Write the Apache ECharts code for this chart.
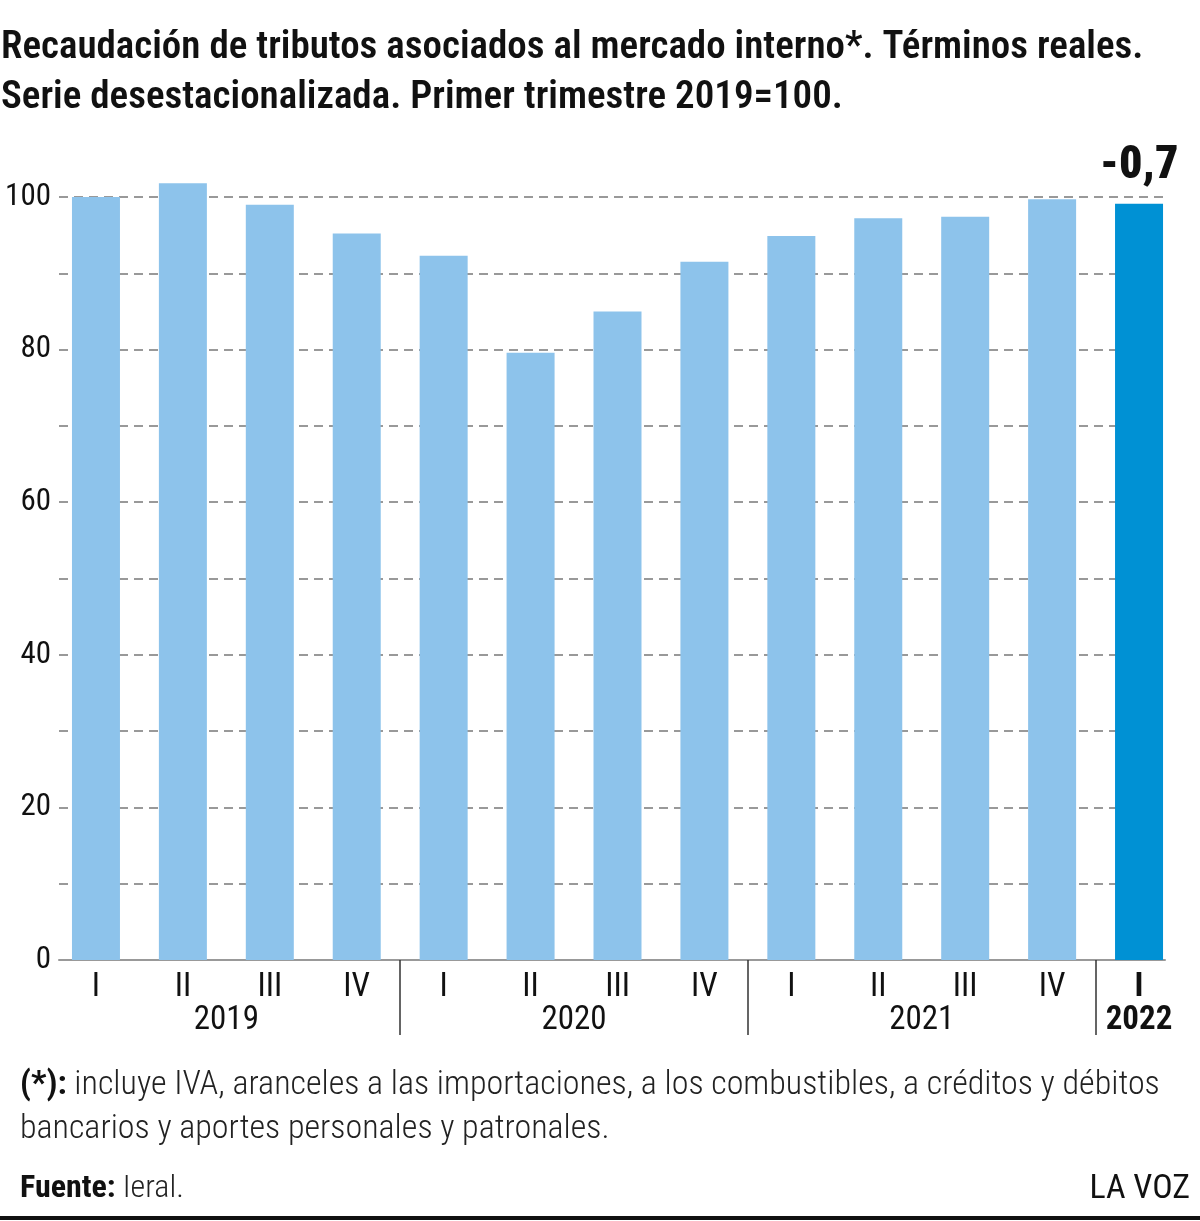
<!DOCTYPE html>
<html>
<head>
<meta charset="utf-8">
<script src="https://cdn.jsdelivr.net/npm/echarts@6/dist/echarts.min.js"></script>
<style>
  html, body { margin: 0; padding: 0; background: #fff; }
  #chart { width: 1200px; height: 1221px; }
</style>
</head>
<body>
<div id="chart"></div>
<script>
// datos
const quarters = ['I', 'II', 'III', 'IV', 'I', 'II', 'III', 'IV', 'I', 'II', 'III', 'IV', 'I'];
const years = ['2019', '2020', '2021', '2022'];
const quartersPerYear = [4, 4, 4, 1];
const values = [100, 101.8, 99.0, 95.2, 92.3, 79.6, 85.0, 91.5, 94.9, 97.2, 97.4, 99.7, 99.1];
const lastChange = '-0,7';
const yTicks = [0, 20, 40, 60, 80, 100];

const FONT = '"Roboto Condensed", "Liberation Sans Narrow", "DejaVu Sans Condensed", Roboto, sans-serif';
const LIGHT = '#8dc3eb';
const DARK = '#0091d4';
const last = values.length - 1;

// eje de años: medias bandas; etiqueta en el centro de cada año, separador al final
const yearSlots = new Array(values.length * 2 + 1).fill('');
const yearBreaks = [];
let pos = 0;
years.forEach((y, i) => {
  yearSlots[pos + quartersPerYear[i]] = y;
  pos += quartersPerYear[i] * 2;
  if (i < years.length - 1) yearBreaks.push(pos);
});

const chart = echarts.init(document.getElementById('chart'));
chart.setOption({
  animation: false,
  textStyle: { fontFamily: FONT },
  title: {
    text: 'Recaudación de tributos asociados al mercado interno*. Términos reales.\nSerie desestacionalizada. Primer trimestre 2019=100.',
    left: -4,
    top: 18,
    textStyle: { fontFamily: FONT, fontSize: 39, fontWeight: 600, color: '#111', lineHeight: 50 }
  },
  grid: [
    { left: 59, right: 35, top: 197, height: 763 },
    { left: 52.5, right: 17.5, top: 197, height: 763 }
  ],
  xAxis: [
    {
      gridIndex: 0, type: 'category', data: quarters,
      axisLine: { show: true, lineStyle: { color: '#999', width: 2 } },
      axisTick: { show: false }, axisLabel: { show: false }
    },
    {
      gridIndex: 1, type: 'category', data: quarters.map((q, i) => i === last
        ? { value: q, textStyle: { fontWeight: 'bold' } } : q),
      axisLine: { show: false }, axisTick: { show: false },
      axisLabel: { interval: 0, margin: 11, fontSize: 33, color: '#111', fontFamily: FONT }
    },
    {
      gridIndex: 1, type: 'category', boundaryGap: false, data: yearSlots.map((y) => y === years[years.length - 1]
        ? { value: y, textStyle: { fontWeight: 'bold' } } : y),
      position: 'bottom', offset: 0,
      axisLine: { show: false },
      axisTick: {
        show: true, length: 75, lineStyle: { color: '#333', width: 1.5 },
        interval: (i) => yearBreaks.includes(i)
      },
      axisLabel: { interval: 0, margin: 44, fontSize: 33, color: '#111', fontFamily: FONT, hideOverlap: false }
    }
  ],
  yAxis: [
    {
      gridIndex: 0, type: 'value', min: 0, max: 100, interval: 10,
      axisLine: { show: false }, axisTick: { show: false },
      axisLabel: {
        margin: 8, fontSize: 31, color: '#111', fontFamily: FONT,
        formatter: (v) => yTicks.includes(v) ? String(v) : ''
      },
      splitLine: { show: true, lineStyle: { color: '#999', width: 2, type: [9, 6] } }
    },
    {
      gridIndex: 1, type: 'value', min: 0, max: 100,
      show: false, splitLine: { show: false }
    }
  ],
  series: [
    {
      type: 'bar',
      xAxisIndex: 1,
      yAxisIndex: 1,
      barWidth: 48,
      clip: false,
      data: values.map((v, i) => i === last
        ? {
            value: v,
            itemStyle: { color: DARK },
            label: {
              show: true, position: 'top', distance: 14, formatter: lastChange,
              fontSize: 46, fontWeight: 900, color: '#111', fontFamily: FONT
            }
          }
        : { value: v, itemStyle: { color: LIGHT } })
    }
  ],
  graphic: [
    {
      type: 'text', left: 20, top: 1063,
      style: {
        text: '{b|(*):} incluye IVA, aranceles a las importaciones, a los combustibles, a créditos y débitos\nbancarios y aportes personales y patronales.',
        fontFamily: FONT, fontSize: 34, fontWeight: 300, fill: '#222', lineHeight: 44,
        rich: { b: { fontWeight: 'bold', fontSize: 34, fontFamily: FONT, fill: '#111' } }
      }
    },
    {
      type: 'text', left: 20, top: 1173,
      style: {
        text: '{b|Fuente:} Ieral.',
        fontFamily: FONT, fontSize: 32, fontWeight: 300, fill: '#222',
        rich: { b: { fontWeight: 'bold', fontSize: 32, fontFamily: FONT, fill: '#111' } }
      }
    },
    {
      type: 'text', right: 10, top: 1172,
      style: { text: 'LA VOZ', fontFamily: FONT, fontSize: 34, fill: '#111' }
    },
    {
      type: 'rect', left: 0, top: 1216,
      shape: { width: 1200, height: 4 },
      style: { fill: '#111' }
    }
  ]
});
</script>
</body>
</html>
